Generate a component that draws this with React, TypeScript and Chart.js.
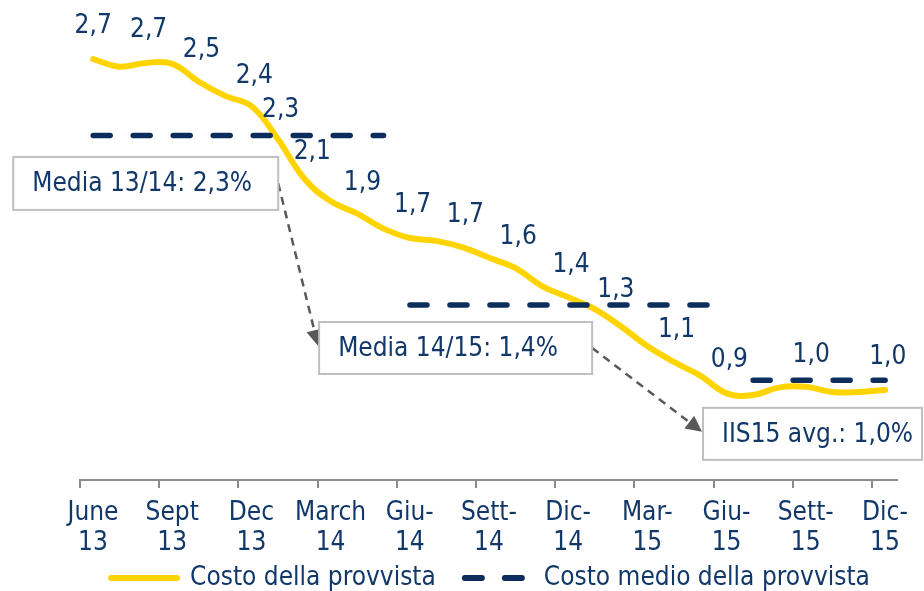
import React, { useEffect, useRef } from 'react';
import { Chart, registerables } from 'chart.js';

Chart.register(...registerables);

// ---------- data ----------
const tickLabels: string[][] = [
  ['June', '13'], ['Sept', '13'], ['Dec', '13'], ['March', '14'], ['Giu-', '14'],
  ['Sett-', '14'], ['Dic-', '14'], ['Mar-', '15'], ['Giu-', '15'], ['Sett-', '15'], ['Dic-', '15'],
];

// monthly values, June 2013 .. December 2015 (index = month)
const costoProvvista = [
  2.705, 2.665, 2.685, 2.68, 2.585, 2.51, 2.455, 2.28, 2.07, 1.95, 1.885,
  1.805, 1.755, 1.74, 1.705, 1.65, 1.595, 1.5, 1.44, 1.378, 1.285, 1.18,
  1.097, 1.024, 0.93, 0.922, 0.962, 0.965, 0.937, 0.937, 0.948,
];

// value labels written along the curve
const labelMonths = [0, 2.1, 4.1, 6.1, 7.1, 8.3, 10.2, 12.1, 14.1, 16.1, 18.1, 19.8, 22.1, 24.1, 27.2, 30.1];
const labelValues = [2.7, 2.7, 2.5, 2.4, 2.3, 2.1, 1.9, 1.7, 1.7, 1.6, 1.4, 1.3, 1.1, 0.9, 1.0, 1.0];

// period averages
const mediaValues = [2.3, 1.4, 1.0];
const mediaFrom = [0, 12, 25];
const mediaTo = [11, 24, 30];

const calloutTexts = ['Media 13/14: 2,3%', 'Media 14/15: 1,4%', 'IIS15 avg.: 1,0%'];

// ---------- style / layout ----------
const FONT = '"DejaVu Sans Condensed", "DejaVu Sans", sans-serif';
const FS = 26;
const NAVY = '#12386A';
const DASH = '#0D2D5C';
const YELLOW = '#FFD400';
const AXIS_GREY = '#8C8C8C';
const BOX_GREY = '#BFBFBF';
const ARROW_GREY = '#595959';

const calloutLayout = [
  { x: 1.99, y: 2.045, w: 265, h: 53 },
  { x: 13.73, y: 1.171, w: 273, h: 52 },
  { x: 27.25, y: 0.715, w: 219, h: 52 },
];

const fmt = (v: number) => v.toFixed(1).replace('.', ',');

const legendShiftPlugin = {
  id: 'legendShift',
  afterLayout(chart: any) {
    const lg = chart.legend;
    if (lg) {
      lg.top -= 19;
      lg.bottom -= 19;
    }
  },
};

const overlayPlugin = {
  id: 'overlay',
  afterDatasetsDraw(chart: any) {
    const { ctx } = chart;
    const xs = chart.scales.x;
    const ys = chart.scales.y;
    ctx.save();

    // value labels
    ctx.font = `${FS}px ${FONT}`;
    ctx.fillStyle = NAVY;
    ctx.textAlign = 'center';
    ctx.textBaseline = 'middle';
    labelValues.forEach((v, i) => {
      const m = labelMonths[i];
      const i0 = Math.max(0, Math.min(costoProvvista.length - 2, Math.floor(m)));
      const t = Math.max(0, Math.min(1, m - i0));
      const val = costoProvvista[i0] + (costoProvvista[i0 + 1] - costoProvvista[i0]) * t;
      ctx.fillText(fmt(v), xs.getPixelForValue(m), ys.getPixelForValue(val) - 33);
    });

    // callout boxes
    const boxes = calloutLayout.map((c, i) => {
      const cx = xs.getPixelForValue(c.x);
      const cy = ys.getPixelForValue(c.y);
      return { left: cx - c.w / 2, right: cx + c.w / 2, top: cy - c.h / 2, bottom: cy + c.h / 2, cy, text: calloutTexts[i] };
    });

    // arrows
    for (let i = 0; i < boxes.length - 1; i++) {
      const a = boxes[i];
      const b = boxes[i + 1];
      const x1 = a.right, y1 = a.cy;
      const x2 = b.left - 1, y2 = b.cy - 2;
      const ang = Math.atan2(y2 - y1, x2 - x1);
      const head = 16;
      const hw = 8;
      const bx = x2 - head * Math.cos(ang);
      const by = y2 - head * Math.sin(ang);
      ctx.strokeStyle = ARROW_GREY;
      ctx.lineWidth = 2.5;
      ctx.setLineDash([8, 6]);
      ctx.beginPath();
      ctx.moveTo(x1, y1);
      ctx.lineTo(bx, by);
      ctx.stroke();
      ctx.setLineDash([]);
      ctx.fillStyle = ARROW_GREY;
      ctx.beginPath();
      ctx.moveTo(x2, y2);
      ctx.lineTo(bx + hw * Math.sin(ang), by - hw * Math.cos(ang));
      ctx.lineTo(bx - hw * Math.sin(ang), by + hw * Math.cos(ang));
      ctx.closePath();
      ctx.fill();
    }

    boxes.forEach((b) => {
      ctx.fillStyle = '#FFFFFF';
      ctx.fillRect(b.left, b.top, b.right - b.left, b.bottom - b.top);
      ctx.strokeStyle = BOX_GREY;
      ctx.lineWidth = 2;
      ctx.strokeRect(b.left, b.top, b.right - b.left, b.bottom - b.top);
      ctx.fillStyle = NAVY;
      ctx.font = `${FS}px ${FONT}`;
      ctx.textAlign = 'left';
      ctx.textBaseline = 'middle';
      ctx.fillText(b.text, b.left + 19, b.cy + 1);
    });

    ctx.restore();
  },
};

export default function App() {
  const ref = useRef<HTMLCanvasElement | null>(null);

  useEffect(() => {
    if (!ref.current) return;
    const datasets: any[] = [
      {
        label: 'Costo della provvista',
        data: costoProvvista.map((v, i) => ({ x: i, y: v })),
        borderColor: YELLOW,
        backgroundColor: YELLOW,
        borderWidth: 6,
        borderCapStyle: 'round',
        pointRadius: 0,
        tension: 0.4,
        order: 2,
      },
      ...mediaValues.map((v, k) => ({
        label: k === 0 ? 'Costo medio della provvista' : `media-${k}`,
        data: [{ x: mediaFrom[k], y: v }, { x: mediaTo[k], y: v }],
        borderColor: DASH,
        backgroundColor: DASH,
        borderWidth: 5.5,
        borderDash: [17, 23],
        borderCapStyle: 'round',
        pointRadius: 0,
        order: 1,
      })),
    ];

    const chart = new Chart(ref.current, {
      type: 'line',
      data: { datasets },
      plugins: [overlayPlugin, legendShiftPlugin],
      options: {
        animation: false,
        responsive: false,
        layout: { padding: { left: 80, right: 23, top: 13, bottom: -29 } },
        scales: {
          x: {
            type: 'linear',
            min: -0.5,
            max: 30.45,
            afterBuildTicks: (s: any) => {
              s.ticks = tickLabels.map((_, i) => ({ value: i * 3 - 0.5 }));
            },
            afterFit: (s: any) => {
              s.height = 75;
            },
            ticks: {
              callback: (_v: any, i: number) => tickLabels[i],
              labelOffset: 13,
              padding: 10,
              autoSkip: false,
              maxRotation: 0,
              color: NAVY,
              font: { family: FONT, size: FS, lineHeight: 1.15 },
            },
            grid: { drawOnChartArea: false, drawTicks: true, tickLength: 8, color: AXIS_GREY, lineWidth: 2 },
            border: { display: true, color: AXIS_GREY, width: 2 },
          },
          y: {
            display: true,
            position: 'right',
            min: 0.47,
            max: 2.95,
            ticks: { display: false },
            grid: { display: false },
            border: { display: false },
            afterFit: (s: any) => {
              s.width = 4;
            },
          },
        },
        plugins: {
          tooltip: { enabled: false },
          legend: {
            position: 'bottom',
            labels: {
              usePointStyle: true,
              pointStyleWidth: 66,
              padding: 29,
              color: NAVY,
              font: { family: FONT, size: FS },
              generateLabels: () => [
                {
                  text: 'Costo della provvista', pointStyle: 'line', strokeStyle: YELLOW, fillStyle: YELLOW,
                  lineWidth: 6, lineCap: 'round', lineDash: [], hidden: false, datasetIndex: 0, fontColor: NAVY,
                },
                {
                  text: 'Costo medio della provvista', pointStyle: 'line', strokeStyle: DASH, fillStyle: DASH,
                  lineWidth: 6, lineCap: 'round', lineDash: [17, 23], hidden: false, datasetIndex: 1, fontColor: NAVY,
                },
              ],
            },
          },
        },
      } as any,
    });
    return () => chart.destroy();
  }, []);

  return (
    <div style={{ position: 'absolute', left: 0, top: 0, width: 924, height: 591, background: '#fff' }}>
      <canvas ref={ref} width={924} height={591} style={{ display: 'block' }} />
    </div>
  );
}
